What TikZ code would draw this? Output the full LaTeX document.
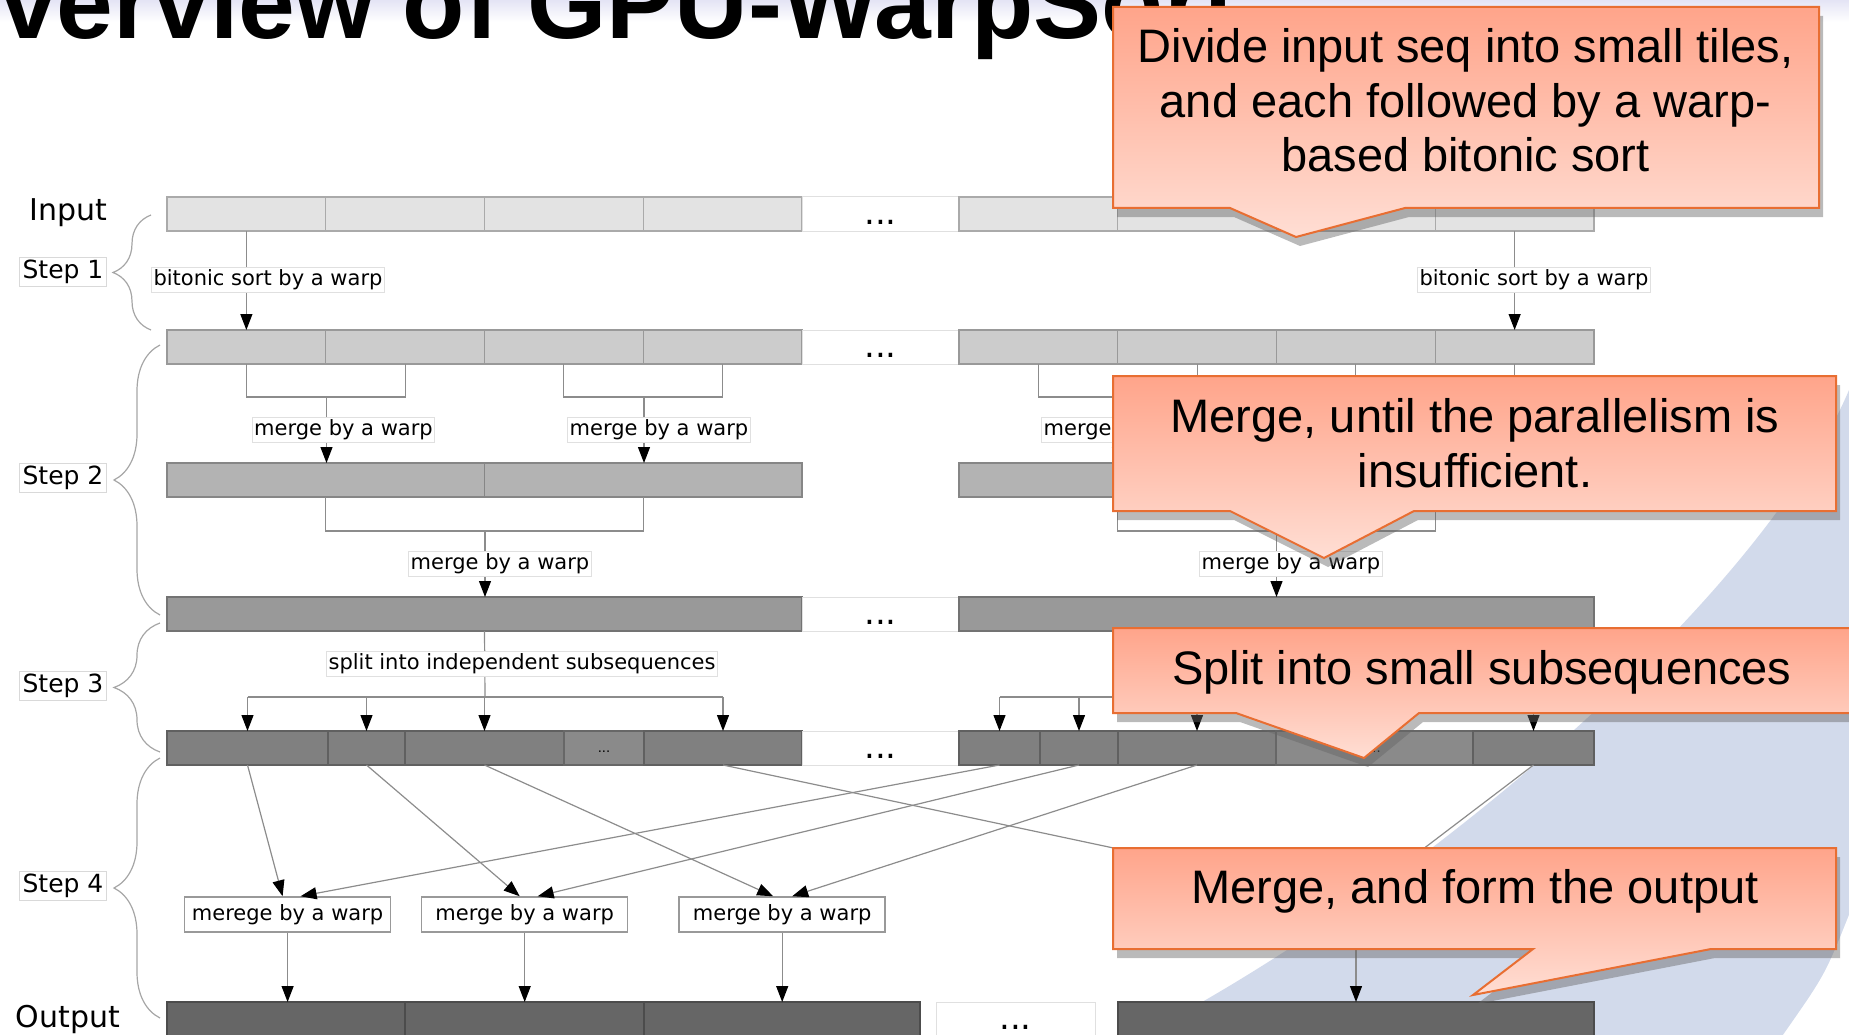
\documentclass[tikz,border=0pt]{standalone}
\usepackage{fontspec}
\setmainfont{DejaVu Sans}
\newfontfamily\notefont{Liberation Sans}
\usepackage{tikz}
\usetikzlibrary{arrows.meta, positioning, shadows, decorations.pathreplacing}
\usepackage{xcolor}

\definecolor{tileA}{HTML}{E3E3E3}
\definecolor{tileB}{HTML}{CCCCCC}
\definecolor{tileC}{HTML}{B3B3B3}
\definecolor{tileD}{HTML}{999999}
\definecolor{tileE}{HTML}{808080}
\definecolor{tileEdots}{HTML}{8A8A8A}
\definecolor{tileF}{HTML}{666666}
\definecolor{swoosh}{RGB}{210,218,235}
\definecolor{noteTop}{RGB}{255,164,138}
\definecolor{noteBot}{RGB}{255,222,212}
\definecolor{noteLine}{RGB}{232,110,50}

\begin{document}
\begin{tikzpicture}[
  x=1pt, y=-1pt,
  node distance=0pt,
  cell/.style={rectangle, draw=#1!75!black, fill=#1, line width=1.2pt, minimum height=34pt, inner sep=0pt, outer sep=0pt},
  rowA/.style={cell=tileA, minimum width=158.75pt},
  rowB/.style={cell=tileB, minimum width=158.75pt},
  rowC/.style={cell=tileC, minimum width=317.5pt},
  rowD/.style={cell=tileD, minimum width=635pt},
  rowE/.style={cell=tileE, minimum width=#1},
  rowF/.style={cell=tileF, minimum width=#1, minimum height=40pt},
  gapdots/.style={rectangle, draw=black!12, fill=white, line width=1pt, minimum width=#1, minimum height=34pt, inner sep=0pt, outer sep=0pt, font=\fontsize{34}{40}\selectfont, text height=20pt, text depth=0pt},
  subdots/.style={cell=tileEdots, minimum width=#1, font=\fontsize{13}{16}\selectfont, text height=8pt, text depth=0pt},
  stepname/.style={rectangle, draw=black!15, fill=white, line width=1pt, inner sep=3pt, font=\fontsize{25}{30}\selectfont},
  ioname/.style={inner sep=0pt, font=\fontsize{30}{36}\selectfont},
  lbl/.style={rectangle, draw=black!12, fill=white, line width=1pt, inner sep=2pt, font=\fontsize{21}{25}\selectfont},
  merger/.style={rectangle, draw=black!40, fill=white, line width=1.5pt, minimum width=206pt, minimum height=35pt, inner sep=0pt, font=\fontsize{21}{25}\selectfont},
  link/.style={draw=black!45, line width=1.2pt},
  flow/.style={link, -{Triangle[length=16pt, width=12pt, color=black]}},
  curly/.style={draw=black!35, line width=1.2pt, decorate, decoration={brace, amplitude=#1}},
  callbox/.style={draw=noteLine, line width=2pt, top color=noteTop, bottom color=noteBot, drop shadow={shadow xshift=4pt, shadow yshift=-9pt, opacity=0.45, fill=black!60}},
  note/.style={inner sep=0pt, align=center, font=\notefont\fontsize{47}{54.5}\selectfont}
]
\useasboundingbox (0,0) rectangle (1849,1035);
\clip (0,0) rectangle (1849,1035);

% Slide background
\shade[top color={rgb,255:red,228;green,228;blue,245}, bottom color=white] (0,0) rectangle (1849,22);
\fill[swoosh] (1849,390) .. controls (1760,600) and (1420,890) .. (1142,1035) -- (1849,1035) -- cycle;
\fill[white] (1849,915) .. controls (1825,975) .. (1783,1035) -- (1849,1035) -- cycle;

% Title
\node[anchor=base west, inner sep=0pt, font=\notefont\bfseries\fontsize{102}{110}\selectfont] (title) at (0,39) {verview of GPU-WarpSort};

% Left side - stage names and braces
\node[ioname, anchor=base] (inname) at (68,221) {Input};
\node[stepname] (step1) at (63,272) {Step 1};
\node[stepname] (step2) at (63,478) {Step 2};
\node[stepname] (step3) at (63,686) {Step 3};
\node[stepname] (step4) at (63,886) {Step 4};
\node[ioname, anchor=base] (outname) at (68,1027) {Output};
\draw[curly=38pt] (151,330) -- (151,215);
\draw[curly=46pt] (160,615) -- (160,345);
\draw[curly=46pt] (160,752) -- (160,623);
\draw[curly=46pt] (160,1018) -- (160,758);

% Input row
\node[rowA, anchor=west] (in1) at (167,214) {};
\node[rowA, right=of in1] (in2) {};
\node[rowA, right=of in2] (in3) {};
\node[rowA, right=of in3] (in4) {};
\node[gapdots=157pt, right=of in4] (indots) {...};
\node[rowA, right=of indots] (in5) {};
\node[rowA, right=of in5] (in6) {};
\node[rowA, right=of in6] (in7) {};
\node[rowA, right=of in7] (in8) {};

% Sorted tiles
\node[rowB, anchor=west] (t1) at (167,347) {};
\node[rowB, right=of t1] (t2) {};
\node[rowB, right=of t2] (t3) {};
\node[rowB, right=of t3] (t4) {};
\node[gapdots=157pt, right=of t4] (tdots) {...};
\node[rowB, right=of tdots] (t5) {};
\node[rowB, right=of t5] (t6) {};
\node[rowB, right=of t6] (t7) {};
\node[rowB, right=of t7] (t8) {};

% Merged pairs
\node[rowC, anchor=west] (p1) at (167,480) {};
\node[rowC, right=of p1] (p2) {};
\node[rowC, right=157pt of p2] (p3) {};
\node[rowC, right=of p3] (p4) {};

% Merged blocks
\node[rowD, anchor=west] (b1) at (167,614) {};
\node[gapdots=157pt, right=of b1] (bdots) {...};
\node[rowD, right=of bdots] (b2) {};

% Independent subsequences
\node[rowE=161pt, anchor=west] (s1) at (167,748) {};
\node[rowE=77pt, right=of s1] (s2) {};
\node[rowE=159pt, right=of s2] (s3) {};
\node[subdots=80pt, right=of s3] (sdots1) {...};
\node[rowE=158pt, right=of sdots1] (s4) {};
\node[gapdots=157pt, right=of s4] (sgap) {...};
\node[rowE=81pt, right=of sgap] (s5) {};
\node[rowE=78pt, right=of s5] (s6) {};
\node[rowE=158pt, right=of s6] (s7) {};
\node[subdots=197pt, right=of s7] (sdots2) {...};
\node[rowE=121pt, right=of sdots2] (s9) {};

% Merge boxes
\node[merger] (mb1) at (287.6,914.5) {merege by a warp};
\node[merger] (mb2) at (524.7,914.5) {merge by a warp};
\node[merger] (mb3) at (782.2,914.5) {merge by a warp};
\coordinate (mb4) at (1352,897);
\coordinate (mb4out) at (1356,932);

% Output row
\node[rowF=238pt, anchor=west] (o1) at (167,1022) {};
\node[rowF=239pt, right=of o1] (o2) {};
\node[rowF=276pt, right=of o2] (o3) {};
\node[gapdots=159pt, anchor=west] (odots) at (936,1019) {...};
\node[rowF=476pt, right=23pt of odots.east |- o3.east] (o4) {};

% Step 1 - bitonic sort
\draw[flow] (in1.south) -- (t1.north);
\draw[flow] (in8.south) -- (t8.north);
\node[lbl] (sort1) at (268,280) {bitonic sort by a warp};
\node[lbl] (sort2) at (1534,280) {bitonic sort by a warp};

% Step 2 - pairwise merges
\coordinate (j1) at (326.5,397);
\coordinate (j2) at (644,397);
\coordinate (j3) at (1118,397);
\coordinate (j4) at (1435.5,397);
\draw[link] (t1.south) |- (j1) -| (t2.south);
\draw[link] (t3.south) |- (j2) -| (t4.south);
\draw[link] (t5.south) |- (j3) -| (t6.south);
\draw[link] (t7.south) |- (j4) -| (t8.south);
\draw[flow] (j1) -- (j1 |- p1.north);
\draw[flow] (j2) -- (j2 |- p2.north);
\draw[flow] (j3) -- (j3 |- p3.north);
\draw[flow] (j4) -- (j4 |- p4.north);
\node[lbl] (mrg1) at (343.5,430) {merge by a warp};
\node[lbl] (mrg2) at (659,430) {merge by a warp};
\node[lbl] (mrg3) at (1133,430) {merge by a warp};

\coordinate (k1) at (485,531);
\coordinate (k2) at (1276.5,531);
\draw[link] (p1.south) |- (k1) -| (p2.south);
\draw[link] (p3.south) |- (k2) -| (p4.south);
\draw[flow] (k1) -- (k1 |- b1.north);
\draw[flow] (k2) -- (k2 |- b2.north);
\node[lbl] (mrg4) at (500,564) {merge by a warp};
\node[lbl] (mrg5) at (1291,564) {merge by a warp};

% Step 3 - split
\coordinate (sp1) at (485,697);
\coordinate (sp2) at (1276.5,697);
\draw[link] (b1.south) -- (sp1);
\draw[link] (b2.south) -- (sp2);
\draw[link] (sp1 -| s1.north) -- (sp1 -| s4.north);
\draw[link] (sp2 -| s5.north) -- (sp2 -| s9.north);
\draw[flow] (sp1 -| s1.north) -- (s1.north);
\draw[flow] (sp1 -| s2.north) -- (s2.north);
\draw[flow] (sp1 -| s3.north) -- (s3.north);
\draw[flow] (sp1 -| s4.north) -- (s4.north);
\draw[flow] (sp2 -| s5.north) -- (s5.north);
\draw[flow] (sp2 -| s6.north) -- (s6.north);
\draw[flow] (sp2 -| s7.north) -- (s7.north);
\draw[flow] (sp2 -| s9.north) -- (s9.north);
\node[lbl] (split) at (522,664) {split into independent subsequences};

% Step 4 - final merges
\draw[flow] (s1.south) -- ([xshift=-5pt]mb1.north);
\draw[flow] (s5.south) -- ([xshift=13pt]mb1.north);
\draw[flow] (s2.south) -- ([xshift=-5pt]mb2.north);
\draw[flow] (s6.south) -- ([xshift=13pt]mb2.north);
\draw[flow] (s3.south) -- ([xshift=-9pt]mb3.north);
\draw[flow] (s7.south) -- ([xshift=10pt]mb3.north);
\draw[flow] (s4.south) -- ([xshift=-8pt]mb4);
\draw[flow] (s9.south) -- ([xshift=8pt]mb4);
\draw[flow] (mb1.south) -- (mb1.south |- o1.north);
\draw[flow] (mb2.south) -- (mb2.south |- o2.north);
\draw[flow] (mb3.south) -- (mb3.south |- o3.north);
\draw[flow] (mb4out) -- (o4.north);

% Callouts
\path[callbox] (1113,7) -- (1819,7) -- (1819,208) -- (1405,208) -- (1296,237) -- (1230,208) -- (1113,208) -- cycle;
\node[note] (note1) at (1465.5,100.5) {Divide input seq into small tiles,\\and each followed by a warp-\\based bitonic sort};
\path[callbox] (1113,376) -- (1836,376) -- (1836,511) -- (1414,511) -- (1324,558) -- (1230,511) -- (1113,511) -- cycle;
\node[note] (note2) at (1475,443) {Merge, until the parallelism is\\insufficient.};
\path[callbox] (1113,628) -- (1870,628) -- (1870,713) -- (1419,713) -- (1364,758) -- (1236,713) -- (1113,713) -- cycle;
\node[note, anchor=base] (note3) at (1482,684) {Split into small subsequences};
\path[callbox] (1113,848) -- (1836,848) -- (1836,949) -- (1711,949) -- (1473,995) -- (1533,949) -- (1113,949) -- cycle;
\node[note, anchor=base] (note4) at (1475,903) {Merge, and form the output};

\end{tikzpicture}
\end{document}
